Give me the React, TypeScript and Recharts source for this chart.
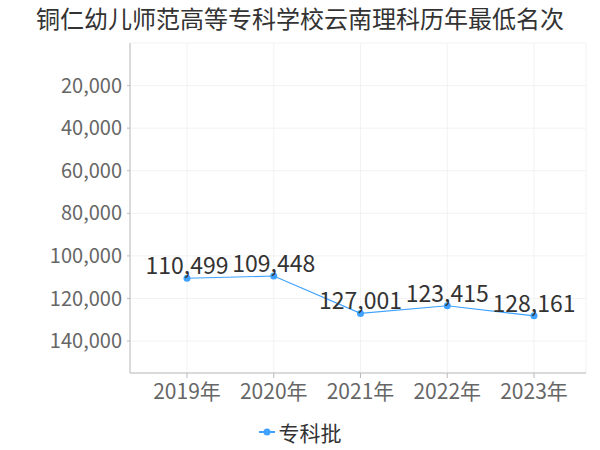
import { CartesianGrid, LabelList, Legend, Line, LineChart, XAxis, YAxis } from "recharts";

const TITLE = "铜仁幼儿师范高等专科学校云南理科历年最低名次";
const YEARS = ["2019年", "2020年", "2021年", "2022年", "2023年"];
const RANKS = [110499, 109448, 127001, 123415, 128161];
const Y_TICKS = [20000, 40000, 60000, 80000, 100000, 120000, 140000];
const SERIES_NAME = "专科批";

const FONT = '"Noto Sans CJK SC", "Noto Sans", sans-serif';
const LINE_COLOR = "#3fa2ff";

const data = YEARS.map((year, i) => ({ year, rank: RANKS[i] }));

const fmt = (v: number | string) => Number(v).toLocaleString("en-US");

function LegendBox() {
  return (
    <div style={{ display: "flex", justifyContent: "center", alignItems: "center", fontFamily: FONT }}>
      <svg width={16} height={10} style={{ marginRight: 4 }}>
        <line x1={0} y1={5} x2={16} y2={5} stroke={LINE_COLOR} strokeWidth={2} />
        <circle cx={8} cy={5} r={3.5} fill={LINE_COLOR} />
      </svg>
      <span style={{ fontSize: 21, color: "#333", lineHeight: "28px" }}>{SERIES_NAME}</span>
    </div>
  );
}

export default function App() {
  return (
    <div style={{ position: "absolute", left: 0, top: 0, width: 600, height: 450, background: "#fff", fontFamily: FONT }}>
      <div
        style={{
          position: "absolute",
          top: 2,
          left: 0,
          width: 600,
          textAlign: "center",
          fontSize: 24,
          color: "#333",
          lineHeight: "32px"
        }}
      >
        {TITLE}
      </div>
      <LineChart width={600} height={450} data={data} margin={{ top: 43, right: 14, left: 0, bottom: 9 }}>
        <CartesianGrid stroke="#f2f2f2" />
        <XAxis
          dataKey="year"
          height={40}
          padding={{ left: 57, right: 52 }}
          tick={{ fill: "#666", fontSize: 21, fontFamily: FONT }}
          tickSize={5}
          tickMargin={6}
          stroke="#bbb"
        />
        <YAxis
          reversed
          domain={[0, 155000]}
          ticks={Y_TICKS}
          width={130}
          tickSize={3}
          tickMargin={5}
          tickFormatter={fmt}
          tick={{ fill: "#666", fontSize: 20, fontFamily: FONT }}
          stroke="#bbb"
        />
        <Legend verticalAlign="bottom" content={() => <LegendBox />} wrapperStyle={{ top: 418, left: 0, width: 600 }} />
        <Line
          type="linear"
          dataKey="rank"
          name={SERIES_NAME}
          stroke={LINE_COLOR}
          strokeWidth={1.2}
          dot={{ r: 3.5, fill: LINE_COLOR, stroke: LINE_COLOR, strokeWidth: 0 }}
          isAnimationActive={false}
        >
          <LabelList dataKey="rank" position="top" offset={4} formatter={fmt} fill="#333" fontSize={23} fontFamily={FONT} />
        </Line>
      </LineChart>
    </div>
  );
}
